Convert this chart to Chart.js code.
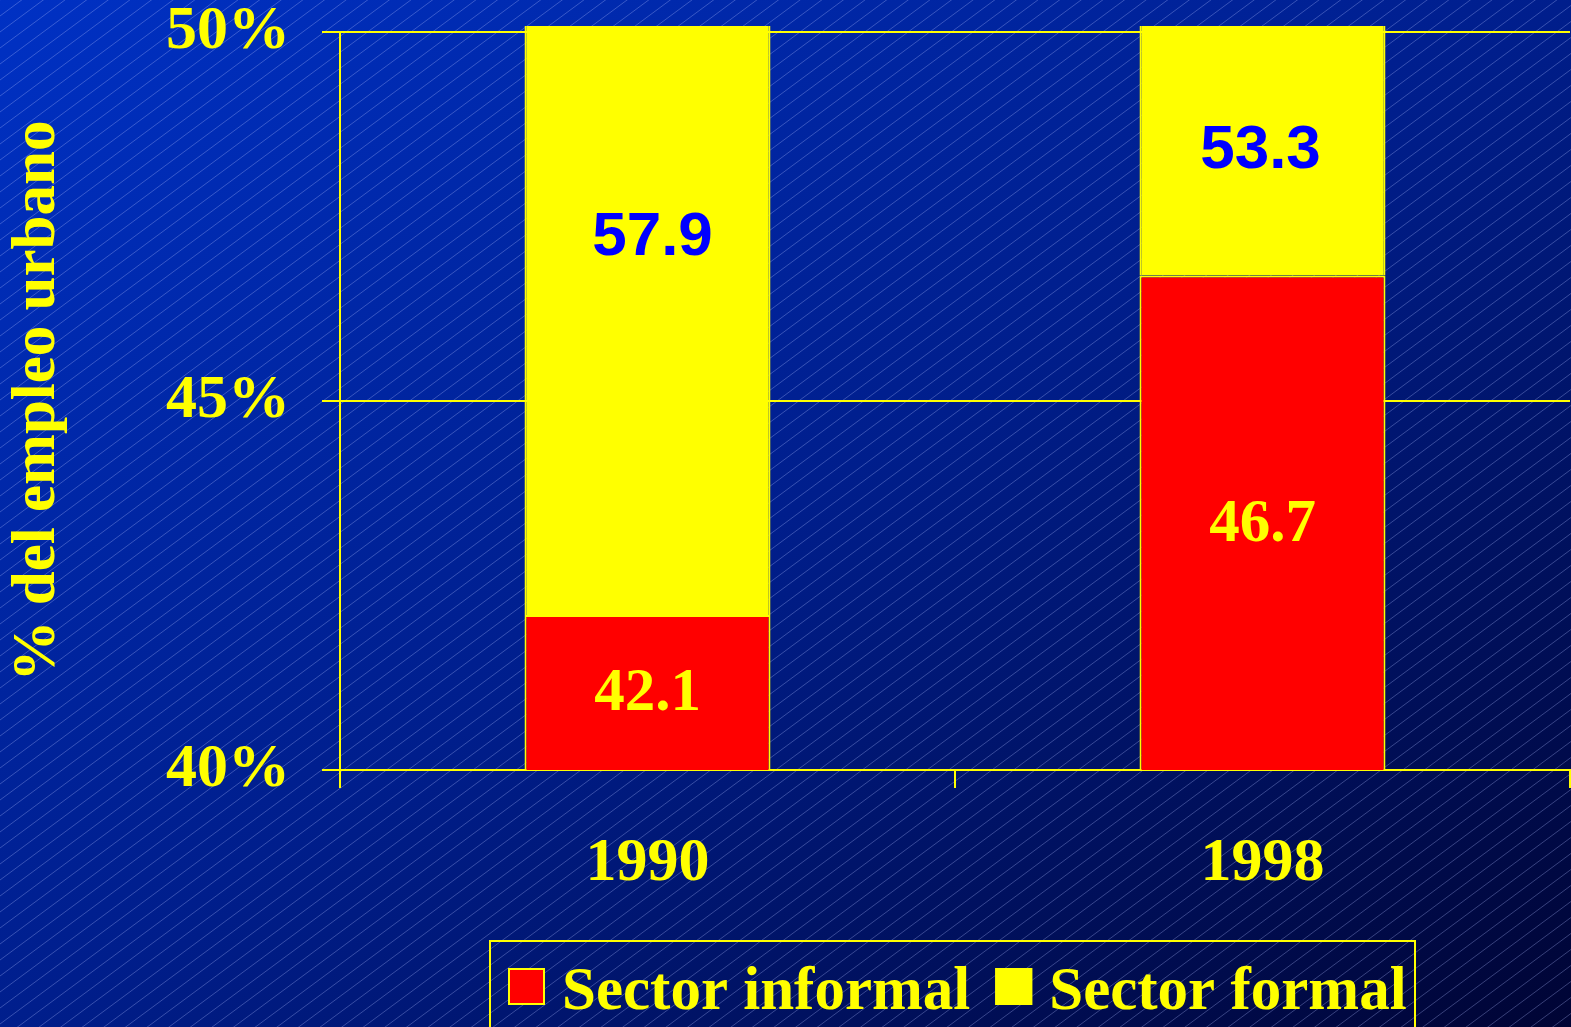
<!DOCTYPE html>
<html>
<head>
<meta charset="utf-8">
<script src="https://cdn.jsdelivr.net/npm/chart.js@4.4.1/dist/chart.umd.min.js"></script>
<style>
html,body{margin:0;padding:0;overflow:hidden;background:#001a80}
#wrap{width:1571px;height:1027px;position:relative}
</style>
</head>
<body>
<div id="wrap"><canvas id="c" width="1571" height="1027"></canvas></div>
<script>
// ---- data ----
const categories = ['1990', '1998'];
const informal = [42.1, 46.7];
const formal = [57.9, 53.3];
const seriesNames = ['Sector informal', 'Sector formal'];
const yTicks = [40, 45, 50];
const yTitle = '% del empleo urbano';

const SERIF = "'Liberation Serif', 'Times New Roman', serif";
const SANS = "'Liberation Sans', Arial, sans-serif";
const YELLOW = '#ffff00';
const RED = '#ff0000';
const BLUE = '#0000ff';

const bgPlugin = {
  id: 'bg',
  beforeDraw(chart) {
    const ctx = chart.ctx, W = chart.width, H = chart.height;
    ctx.save();
    const g = ctx.createLinearGradient(0, 0, 941, 1439);
    g.addColorStop(0, '#0031c4');
    g.addColorStop(0.5, '#001e8c');
    g.addColorStop(1, '#000434');
    ctx.fillStyle = g;
    ctx.fillRect(0, 0, W, H);
    ctx.strokeStyle = 'rgba(175,190,255,0.32)';
    ctx.lineWidth = 1;
    const slope = 0.74, step = 16;
    ctx.beginPath();
    for (let c = 0; c < H + slope * W + step; c += step) {
      ctx.moveTo(0, c);
      ctx.lineTo(W, c - slope * W);
    }
    ctx.stroke();
    ctx.restore();
  }
};

const labelPlugin = {
  id: 'barLabels',
  afterDatasetsDraw(chart, args, opts) {
    const ctx = chart.ctx;
    const yScale = chart.scales.y;
    const area = chart.chartArea;
    ctx.save();
    ctx.textAlign = 'center';
    ctx.textBaseline = 'middle';
    const m0 = chart.getDatasetMeta(0);
    m0.data.forEach((bar, i) => {
      const bottom = Math.min(bar.base, area.bottom);
      const top = Math.max(bar.y, area.top);
      ctx.font = 'bold 61px ' + SERIF;
      ctx.fillStyle = YELLOW;
      ctx.fillText(informal[i].toFixed(1), bar.x, (top + bottom) / 2 + 2);
    });
    const m1 = chart.getDatasetMeta(1);
    m1.data.forEach((bar, i) => {
      ctx.font = 'bold 62px ' + SANS;
      ctx.fillStyle = BLUE;
      ctx.fillText(formal[i].toFixed(1), bar.x + opts.formalShift[i], yScale.getPixelForValue(opts.formalAnchors[i]));
    });
    ctx.restore();
  }
};

const legendPlugin = {
  id: 'boxLegend',
  afterDraw(chart) {
    const ctx = chart.ctx;
    ctx.save();
    ctx.strokeStyle = YELLOW;
    ctx.lineWidth = 2;
    ctx.strokeRect(490, 941, 925, 120);
    ctx.font = 'bold 61px ' + SERIF;
    ctx.textBaseline = 'alphabetic';
    ctx.textAlign = 'left';
    let x = 508;
    const top = 968, box = 37, baseline = 1009;
    chart.data.datasets.forEach((ds, i) => {
      ctx.fillStyle = ds.backgroundColor;
      ctx.fillRect(x, top, box, box);
      ctx.strokeStyle = YELLOW;
      ctx.lineWidth = 2;
      ctx.strokeRect(x + 1, top + 1, box - 2, box - 2);
      x += box + 17;
      ctx.fillStyle = YELLOW;
      ctx.fillText(ds.label, x, baseline);
      x += ctx.measureText(ds.label).width + 25;
    });
    ctx.restore();
  }
};

new Chart(document.getElementById('c'), {
  type: 'bar',
  data: {
    labels: categories,
    datasets: [
      {
        label: seriesNames[0],
        data: informal,
        backgroundColor: RED,
        borderColor: YELLOW,
        borderWidth: 2,
        borderSkipped: 'start'
      },
      {
        label: seriesNames[1],
        data: formal,
        backgroundColor: YELLOW,
        borderColor: YELLOW,
        borderWidth: 2,
        borderSkipped: 'start',
        clip: {left: 0, top: 6, right: 0, bottom: 0}
      }
    ]
  },
  options: {
    responsive: false,
    animation: false,
    devicePixelRatio: 1,
    barPercentage: 0.8,
    categoryPercentage: 0.5,
    layout: {padding: {top: 32, right: 1, bottom: 0, left: 0}},
    plugins: {
      legend: {display: false},
      tooltip: {enabled: false},
      barLabels: {formalAnchors: [47.21, 48.39], formalShift: [5, -2]}
    },
    scales: {
      x: {
        stacked: true,
        afterFit(s) { s.height = 257; s.paddingLeft = 0; s.paddingRight = 0; },
        grid: {
          display: true, drawOnChartArea: false, drawTicks: true,
          tickLength: 18, color: YELLOW, lineWidth: 2, offset: true
        },
        border: {display: true, color: YELLOW, width: 2},
        ticks: {
          color: YELLOW, padding: 39,
          font: {family: SERIF, size: 62, weight: 'bold', lineHeight: 1.2}
        }
      },
      y: {
        stacked: true,
        min: 40, max: 50,
        afterFit(s) { s.width = 340; s.paddingTop = 0; s.paddingBottom = 0; },
        afterBuildTicks(s) { s.ticks = yTicks.map(v => ({value: v})); },
        grid: {color: YELLOW, lineWidth: 2, tickLength: 18, drawTicks: true},
        border: {display: true, color: YELLOW, width: 2},
        ticks: {
          color: YELLOW, padding: 32,
          font: {family: SERIF, size: 62, weight: 'bold', lineHeight: 1},
          callback: v => v + '%'
        },
        title: {
          display: true, text: yTitle, color: YELLOW,
          font: {family: SERIF, size: 61, weight: 'bold', lineHeight: 1.2},
          padding: {top: 2, bottom: 0}
        }
      }
    }
  },
  plugins: [bgPlugin, labelPlugin, legendPlugin]
});
</script>
</body>
</html>
